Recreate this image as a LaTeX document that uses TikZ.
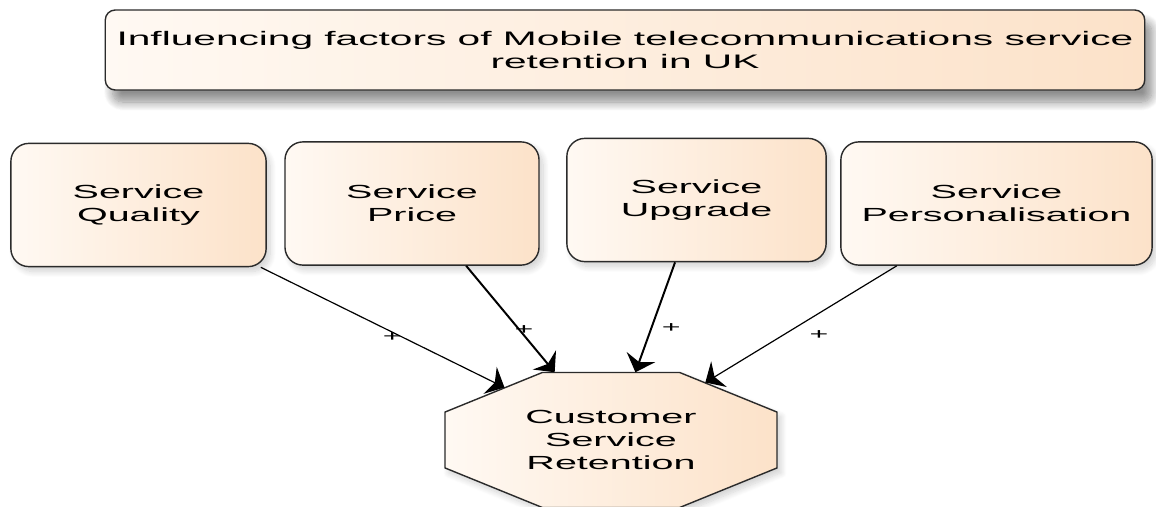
\documentclass[tikz,border=0pt]{standalone}
\usepackage{fontspec}
\newfontfamily\diafont[FakeStretch=2.08]{Liberation Sans}
\usepackage{xcolor}
\definecolor{edge}{HTML}{2B2B2B}
\definecolor{peach}{HTML}{FCE2C9}
\definecolor{cream}{HTML}{FFF9F3}
\usetikzlibrary{arrows.meta,shapes.geometric,shadows.blur}

\begin{document}
\begin{tikzpicture}[x=.025cm,y=-.025cm,
    factor/.style={rectangle,rounded corners=.45cm,draw=edge,line width=1pt,
      left color=cream,right color=peach,align=center,inner sep=0pt,
      minimum height=3.08cm,font=\diafont\fontsize{13.5}{16.4}\selectfont,
      blur shadow={shadow xshift=.1cm,shadow yshift=-.12cm,shadow blur radius=.15cm,
        shadow opacity=18,shadow blur steps=10}},
    link/.style={draw=black,-{Stealth[length=.4cm,width=.75cm,inset=.13cm]}},
    plus/.style={font=\fontsize{11}{11}\selectfont\diafont,inner sep=0pt}]
    \useasboundingbox (0,0) rectangle (1156,506);
    % heading
    \node[factor,rounded corners=.25cm,minimum width=25.98cm,minimum height=2cm,
      font=\diafont\fontsize{13.9}{16.4}\selectfont,
      blur shadow={shadow xshift=.18cm,shadow yshift=-.3cm,shadow blur radius=.22cm,
        shadow opacity=25,shadow blur steps=12}]
      (head) at (625,50) {Influencing factors of Mobile telecommunications service\\
      retention in UK};
    % the four factors
    \node[factor,minimum width=6.38cm] (qual) at (138.5,205) {Service\\Quality};
    \node[factor,minimum width=6.35cm] (price) at (412,203.5) {Service\\Price};
    \node[factor,minimum width=6.48cm] (upg) at (696.5,200) {Service\\Upgrade};
    \node[factor,minimum width=7.78cm] (pers) at (996.5,203.5) {Service\\Personalisation};
    % outcome: a flattened octagon
    \begin{scope}[shift={(611,440)},yscale=.4066]
      \node[factor,sharp corners,regular polygon,regular polygon sides=8,
        minimum size=8.98cm,transform shape] (ret) at (0,0) {};
    \end{scope}
    \node[align=center,inner sep=0pt,font=\diafont\fontsize{13.5}{16.4}\selectfont]
      (rettext) at (ret) {Customer\\Service\\Retention};
    \draw[link,line width=.85pt] (qual.-27) -- (ret)
      node[plus,pos=.54,yshift=-.12cm] {+};
    \draw[link,line width=1.4pt] (price.-49) -- (ret)
      node[plus,pos=.6,xshift=.12cm] {+};
    \draw[link,line width=1.4pt] (upg.-109) -- (ret)
      node[plus,pos=.6,xshift=.5cm] {+};
    \draw[link,line width=.85pt] (pers.-148) -- (ret)
      node[plus,pos=.59,xshift=.88cm] {+};
  \end{tikzpicture}
\end{document}
